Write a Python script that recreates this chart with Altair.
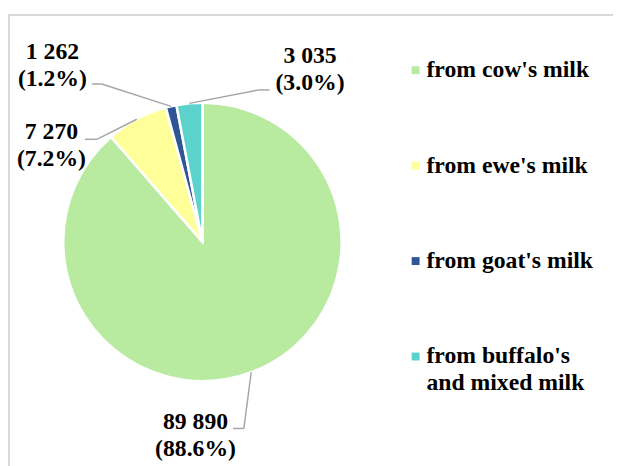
import altair as alt
import pandas as pd

# ---- data ----
categories = ["from cow's milk", "from ewe's milk", "from goat's milk",
              "from buffalo's and mixed milk"]
legend_text = ["from cow's milk", "from ewe's milk", "from goat's milk",
               "from buffalo's\nand mixed milk"]
tons = [89890, 7270, 1262, 3035]
shares = [88.6, 7.2, 1.2, 3.0]
tons_text = ["89 890", "7 270", "1 262", "3 035"]
colors = ["#B8EAA0", "#FFFF99", "#2F5597", "#5CD2CD"]

# ---- layout of the data labels (px in the chart) ----
label_x = [190, 44, 45, 306]
label_y = [424, 130, 49, 53]
elbow_x = [239, 90, 95, 254]
elbow_y = [423, 130, 74, 80]
end_x = [228, 78, 85, 265]

W, H = 613, 458
CX, CY, R = 197, 234, 141
LEG_X, LEG_Y0, LEG_DY = 413, 60, 96.7
FONT = "Liberation Serif"

df = pd.DataFrame({
    "idx": list(range(len(categories))),
    "cat": categories,
    "legend": legend_text,
    "tons": tons,
    "label": [f"{t}\n({s:.1f}%)" for t, s in zip(tons_text, shares)],
    "label_x": label_x,
    "label_y": label_y,
    "elbow_x": elbow_x,
    "elbow_y": elbow_y,
    "end_x": end_x,
})

xs = alt.Scale(domain=[0, W], range=[0, W], nice=False, zero=False)
ys = alt.Scale(domain=[0, H], range=[0, H], nice=False, zero=False)
color = alt.Color("cat:N", scale=alt.Scale(domain=categories, range=colors), legend=None)

base = alt.Chart(df)

frame = alt.Chart(pd.DataFrame({"k": [0]})).mark_rect(
    fill="white", stroke="#D9D9D9", strokeWidth=2
).encode(x=alt.value(1), x2=alt.value(W + 20), y=alt.value(4), y2=alt.value(H + 20))

pie = base.mark_arc(outerRadius=R, stroke="white", strokeWidth=2.5).encode(
    theta=alt.Theta("tons:Q", stack=True),
    order=alt.Order("idx:Q"),
    color=color,
    x=alt.value(CX),
    y=alt.value(CY),
)

lead = base.transform_joinaggregate(total="sum(tons)").transform_window(
    cum="sum(tons)", sort=[alt.SortField("idx")], frame=[None, 0]
).transform_calculate(
    a="2*PI*(datum.cum - datum.tons/2)/datum.total"
).transform_calculate(
    sx=f"{CX} + {R}*sin(datum.a)",
    sy=f"{CY} - {R}*cos(datum.a)",
)

seg1 = lead.mark_rule(color="#A6A6A6", strokeWidth=1.5).encode(
    x=alt.X("sx:Q", scale=xs, axis=None),
    y=alt.Y("sy:Q", scale=ys, axis=None),
    x2="elbow_x:Q", y2="elbow_y:Q",
)
seg2 = base.mark_rule(color="#A6A6A6", strokeWidth=1.5).encode(
    x=alt.X("elbow_x:Q", scale=xs, axis=None),
    y=alt.Y("elbow_y:Q", scale=ys, axis=None),
    x2="end_x:Q",
)

labels = base.mark_text(
    align="center", baseline="alphabetic", lineBreak="\n", lineHeight=27,
    font=FONT, fontSize=24, fontWeight="bold", color="black"
).encode(
    x=alt.X("label_x:Q", scale=xs, axis=None),
    y=alt.Y("label_y:Q", scale=ys, axis=None),
    text="label:N",
)

leg = base.transform_calculate(ly=f"{LEG_Y0} + datum.idx*{LEG_DY}")
leg_sym = leg.mark_square(size=64, opacity=1).encode(
    x=alt.value(LEG_X),
    y=alt.Y("ly:Q", scale=ys, axis=None),
    color=color,
)
leg_txt = leg.mark_text(
    align="left", baseline="alphabetic", dy=7, lineBreak="\n", lineHeight=27,
    font=FONT, fontSize=24, fontWeight="bold", color="black"
).encode(
    x=alt.value(LEG_X + 11),
    y=alt.Y("ly:Q", scale=ys, axis=None),
    text="legend:N",
)

chart = alt.layer(frame, pie, seg1, seg2, labels, leg_sym, leg_txt).properties(
    width=W, height=H,
    autosize=alt.AutoSizeParams(type="none"),
    padding=0,
    background="white",
).configure_view(strokeWidth=0)

chart.save("out.html", embed_options={"renderer": "svg", "actions": False})
